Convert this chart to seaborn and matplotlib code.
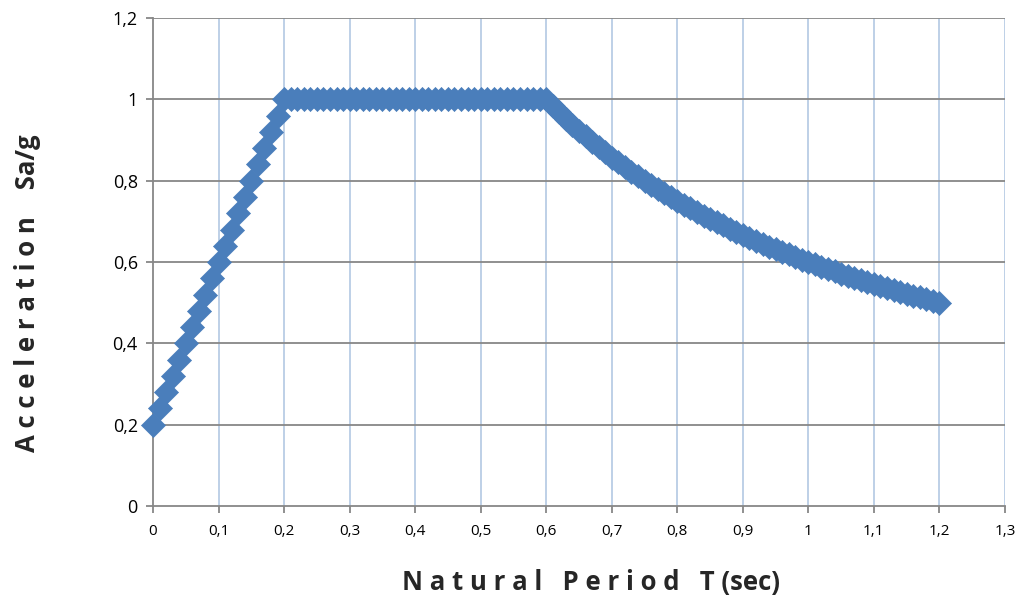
import matplotlib
matplotlib.use("Agg")
import matplotlib.pyplot as plt
import seaborn as sns
import pandas as pd

# Natural period T (sec)
period = [
    0.00, 0.01, 0.02, 0.03, 0.04, 0.05, 0.06, 0.07, 0.08, 0.09,
    0.10, 0.11, 0.12, 0.13, 0.14, 0.15, 0.16, 0.17, 0.18, 0.19,
    0.20, 0.21, 0.22, 0.23, 0.24, 0.25, 0.26, 0.27, 0.28, 0.29,
    0.30, 0.31, 0.32, 0.33, 0.34, 0.35, 0.36, 0.37, 0.38, 0.39,
    0.40, 0.41, 0.42, 0.43, 0.44, 0.45, 0.46, 0.47, 0.48, 0.49,
    0.50, 0.51, 0.52, 0.53, 0.54, 0.55, 0.56, 0.57, 0.58, 0.59,
    0.60, 0.61, 0.62, 0.63, 0.64, 0.65, 0.66, 0.67, 0.68, 0.69,
    0.70, 0.71, 0.72, 0.73, 0.74, 0.75, 0.76, 0.77, 0.78, 0.79,
    0.80, 0.81, 0.82, 0.83, 0.84, 0.85, 0.86, 0.87, 0.88, 0.89,
    0.90, 0.91, 0.92, 0.93, 0.94, 0.95, 0.96, 0.97, 0.98, 0.99,
    1.00, 1.01, 1.02, 1.03, 1.04, 1.05, 1.06, 1.07, 1.08, 1.09,
    1.10, 1.11, 1.12, 1.13, 1.14, 1.15, 1.16, 1.17, 1.18, 1.19,
    1.20,
]

# Spectral acceleration Sa/g
acceleration = [
    0.20, 0.24, 0.28, 0.32, 0.36, 0.40, 0.44, 0.48, 0.52, 0.56,
    0.60, 0.64, 0.68, 0.72, 0.76, 0.80, 0.84, 0.88, 0.92, 0.96,
    1.00, 1.00, 1.00, 1.00, 1.00, 1.00, 1.00, 1.00, 1.00, 1.00,
    1.00, 1.00, 1.00, 1.00, 1.00, 1.00, 1.00, 1.00, 1.00, 1.00,
    1.00, 1.00, 1.00, 1.00, 1.00, 1.00, 1.00, 1.00, 1.00, 1.00,
    1.00, 1.00, 1.00, 1.00, 1.00, 1.00, 1.00, 1.00, 1.00, 1.00,
    1.000, 0.984, 0.968, 0.952, 0.938, 0.923, 0.909, 0.896, 0.882, 0.870,
    0.857, 0.845, 0.833, 0.822, 0.811, 0.800, 0.789, 0.779, 0.769, 0.759,
    0.750, 0.741, 0.732, 0.723, 0.714, 0.706, 0.698, 0.690, 0.682, 0.674,
    0.667, 0.659, 0.652, 0.645, 0.638, 0.632, 0.625, 0.619, 0.612, 0.606,
    0.600, 0.594, 0.588, 0.583, 0.577, 0.571, 0.566, 0.561, 0.556, 0.550,
    0.545, 0.541, 0.536, 0.531, 0.526, 0.522, 0.517, 0.513, 0.508, 0.504,
    0.500,
]

x_ticks = [0.0, 0.1, 0.2, 0.3, 0.4, 0.5, 0.6, 0.7, 0.8, 0.9, 1.0, 1.1, 1.2, 1.3]
x_tick_labels = ["0", "0,1", "0,2", "0,3", "0,4", "0,5", "0,6", "0,7", "0,8",
                 "0,9", "1", "1,1", "1,2", "1,3"]
y_ticks = [0.0, 0.2, 0.4, 0.6, 0.8, 1.0, 1.2]
y_tick_labels = ["0", "0,2", "0,4", "0,6", "0,8", "1", "1,2"]

x_label = "N a t u r a l   P e r i o d   T (sec)"
y_label = "A c c e l e r a t i o n    Sa/g"

df = pd.DataFrame({"T": period, "Sa": acceleration})

sns.set_theme(style="white")
plt.rcParams["font.family"] = ["Open Sans", "DejaVu Sans"]

fig = plt.figure(figsize=(10.21, 6.01), dpi=100)
ax = fig.add_axes([0.1499, 0.158, 0.8344, 0.812])

sns.scatterplot(data=df, x="T", y="Sa", marker="D", s=150, color="#4A7EBB",
                edgecolor="#4A7EBB", linewidth=0.5, ax=ax, zorder=3, clip_on=False)

ax.set_xlim(0, 1.3)
ax.set_ylim(0, 1.2)
ax.set_xticks(x_ticks)
ax.set_xticklabels(x_tick_labels, fontsize=11)
ax.set_yticks(y_ticks)
ax.set_yticklabels(y_tick_labels, fontsize=13)

# grid lines: vertical light blue, horizontal gray
for xv in x_ticks[1:]:
    ax.axvline(xv, color="#B9CDE5", lw=1.3, zorder=1)
for yv in y_ticks[1:]:
    ax.axhline(yv, color="#878787", lw=1.3, zorder=1)

for side in ["top", "right"]:
    ax.spines[side].set_visible(False)
for side in ["left", "bottom"]:
    ax.spines[side].set_color("#878787")
    ax.spines[side].set_linewidth(1.3)

ax.tick_params(axis="both", direction="out", length=5, width=1.3, color="#878787",
               bottom=True, left=True, colors="#878787", labelcolor="black")
ax.tick_params(axis="x", pad=8)
ax.tick_params(axis="y", pad=6)

ax.set_xlabel(x_label, fontsize=18.5, fontweight="bold")
ax.set_ylabel(y_label, fontsize=18.5, fontweight="bold")
ax.xaxis.set_label_coords(0.514, -0.128)
ax.yaxis.set_label_coords(-0.132, 0.436)

fig.savefig("out.png", dpi=100)
